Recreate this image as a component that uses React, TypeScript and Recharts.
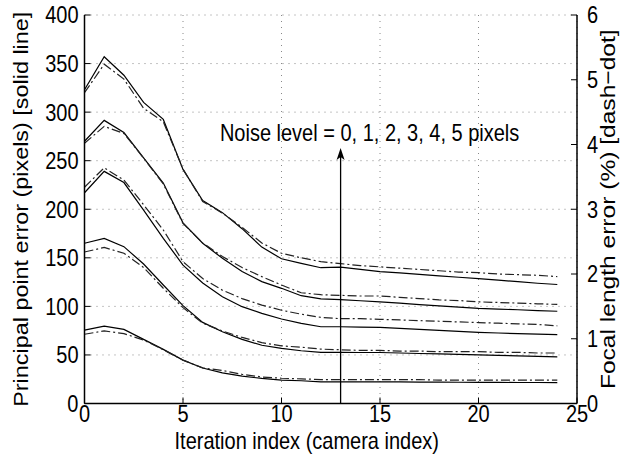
import { LineChart, Line, XAxis, YAxis, CartesianGrid, ReferenceLine } from "recharts";

const iterations = [0, 1, 2, 3, 4, 5, 6, 7, 8, 9, 10, 11, 12, 13, 14, 15, 16, 17, 18, 19, 20, 21, 22, 23, 24];

// principal point error (pixels), noise level 1..5
const pp1 = [75.6, 79.7, 76.3, 66, 55.7, 44.7, 36.5, 31.6, 28.2, 25.8, 24, 23.4, 22.3, 22.3, 22.3, 22.3, 22.2, 22.1, 22, 21.9, 21.8, 21.7, 21.6, 21.6, 21.5];
const pp2 = [165, 170, 161.5, 143.6, 122, 100.8, 83.5, 73.9, 66, 60, 56.7, 54.3, 52.6, 52.6, 52.5, 52.5, 52, 51.5, 51, 50.5, 50, 49.5, 49, 48.5, 48];
const pp3 = [217, 239, 227.5, 199, 170, 142.5, 124, 110, 99.7, 92.8, 87, 82.5, 79, 79, 78.7, 78.3, 77.3, 76.3, 75.2, 74.2, 73.2, 72.6, 72, 71.5, 71];
const pp4 = [270, 291.5, 279, 253, 227, 186, 165, 149.5, 136, 125.5, 118.6, 111, 107.8, 107, 105.8, 104.7, 103.3, 101.9, 100.5, 99.2, 97.9, 97.2, 96.5, 95.7, 95];
const pp5 = [323, 357, 338, 310, 292.5, 241, 209, 196.5, 180, 161, 149, 144.3, 139.8, 140.5, 138, 135.8, 134.5, 133, 131.5, 130, 128.5, 127, 125.5, 123.8, 122.5];

// focal length error (%), noise level 1..5
const fl1 = [1.07, 1.12, 1.08, 0.98, 0.83, 0.67, 0.55, 0.51, 0.45, 0.41, 0.39, 0.38, 0.37, 0.37, 0.37, 0.37, 0.37, 0.37, 0.36, 0.36, 0.36, 0.36, 0.36, 0.36, 0.36];
const fl2 = [2.34, 2.41, 2.32, 2.1, 1.78, 1.48, 1.24, 1.12, 1.02, 0.94, 0.89, 0.87, 0.84, 0.83, 0.82, 0.82, 0.81, 0.81, 0.8, 0.8, 0.8, 0.79, 0.79, 0.78, 0.78];
const fl3 = [3.34, 3.64, 3.45, 3.07, 2.68, 2.19, 1.93, 1.75, 1.62, 1.52, 1.44, 1.38, 1.33, 1.31, 1.31, 1.3, 1.29, 1.28, 1.27, 1.26, 1.25, 1.24, 1.23, 1.22, 1.2];
const fl4 = [4.02, 4.28, 4.17, 3.79, 3.39, 2.78, 2.48, 2.27, 2.1, 1.96, 1.83, 1.71, 1.68, 1.67, 1.66, 1.66, 1.64, 1.62, 1.6, 1.59, 1.57, 1.56, 1.55, 1.54, 1.53];
const fl5 = [4.8, 5.24, 5.01, 4.56, 4.35, 3.62, 3.12, 2.94, 2.72, 2.48, 2.32, 2.25, 2.19, 2.16, 2.13, 2.11, 2.09, 2.07, 2.05, 2.03, 2.02, 2.0, 1.99, 1.98, 1.96];

const xTicks = [0, 5, 10, 15, 20, 25];
const leftTicks = [0, 50, 100, 150, 200, 250, 300, 350, 400];
const rightTicks = [0, 1, 2, 3, 4, 5, 6];

const arrowX = 13;
const arrowTop = 263;
const noteText = "Noise level = 0, 1, 2, 3, 4, 5 pixels";

const ppSeries = [pp1, pp2, pp3, pp4, pp5];
const flSeries = [fl1, fl2, fl3, fl4, fl5];

const data = iterations.map((x, i) => {
  const row: any = { x };
  ppSeries.forEach((s, k) => (row[`pp${k + 1}`] = s[i]));
  flSeries.forEach((s, k) => (row[`fl${k + 1}`] = s[i]));
  return row;
});

const FONT = "'Liberation Sans', Arial, Helvetica, sans-serif";
const STRETCH = 1.17; // the source figure is a bit taller than wide
const axisLine = { stroke: "#000", strokeWidth: 1.5 };

const Tick = (props: any) => {
  const { x, y, payload, textAnchor, verticalAnchor } = props;
  const dy = verticalAnchor === "start" ? "0.72em" : "0.36em";
  return (
    <g transform={`translate(${x},${y}) scale(1,${STRETCH})`}>
      <text x={0} y={0} dy={dy} textAnchor={textAnchor} fontSize={20} fontFamily={FONT} fill="#000">
        {payload.value}
      </text>
    </g>
  );
};

const VLabel = ({ cx, cy, text, size }: any) => (
  <g transform={`translate(${cx},${cy}) rotate(-90) scale(${STRETCH},1)`}>
    <text x={0} y={0} dy="0.36em" textAnchor="middle" fontSize={size} fontFamily={FONT} fill="#000">
      {text}
    </text>
  </g>
);

const Arrow = (props: any) => {
  const { x1, y1, x2, y2 } = props;
  const top = Math.min(y1, y2);
  const bottom = Math.max(y1, y2);
  return (
    <g>
      <line x1={x1} y1={bottom} x2={x2} y2={top + 6} stroke="#000" strokeWidth={1.3} />
      <path d={`M${x1},${top} L${x1 - 4},${top + 12} L${x1},${top + 9} L${x1 + 4},${top + 12} Z`} fill="#000" />
      <g transform={`translate(${x1 + 29},${top - 7}) scale(1,${STRETCH})`}>
        <text x={0} y={0} textAnchor="middle" fontSize={20} fontFamily={FONT} fill="#000">
          {noteText}
        </text>
      </g>
    </g>
  );
};

export default function App() {
  return (
    <div style={{ position: "absolute", left: 0, top: 0, background: "#fff" }}>
      <LineChart width={621} height={455} data={data} margin={{ top: 15, right: 0, bottom: 0, left: 0 }}>
        <CartesianGrid
          xAxisId="bottom"
          yAxisId="left"
          stroke="#888"
          strokeDasharray="1 5"
          horizontalValues={leftTicks}
          verticalValues={xTicks}
        />
        <XAxis
          xAxisId="bottom"
          dataKey="x"
          type="number"
          domain={[0, 25]}
          ticks={xTicks}
          interval={0}
          height={51.5}
          tickSize={-6}
          tickMargin={8}
          tick={<Tick />}
          axisLine={axisLine}
          tickLine={{ stroke: "#000" }}
          label={({ viewBox }: any) => (
            <g transform={`translate(${viewBox.x + viewBox.width / 2 - 24},449) scale(1,${STRETCH})`}>
              <text x={0} y={0} textAnchor="middle" fontSize={20} fontFamily={FONT} fill="#000">
                Iteration index (camera index)
              </text>
            </g>
          )}
        />
        <XAxis
          xAxisId="top"
          orientation="top"
          dataKey="x"
          type="number"
          domain={[0, 25]}
          ticks={xTicks}
          interval={0}
          height={0}
          tickSize={-6}
          tickFormatter={() => ""}
          axisLine={axisLine}
          tickLine={{ stroke: "#000" }}
        />
        <YAxis
          yAxisId="left"
          type="number"
          domain={[0, 400]}
          ticks={leftTicks}
          interval={0}
          width={84.5}
          tickSize={-6}
          tickMargin={12}
          tick={<Tick />}
          axisLine={axisLine}
          tickLine={{ stroke: "#000" }}
          label={({ viewBox }: any) => (
            <VLabel cx={21} cy={viewBox.y + viewBox.height / 2} size={20} text="Principal point error (pixels) [solid line]" />
          )}
        />
        <YAxis
          yAxisId="right"
          orientation="right"
          type="number"
          domain={[0, 6]}
          ticks={rightTicks}
          interval={0}
          width={44}
          tickSize={-6}
          tickMargin={16}
          tick={<Tick />}
          axisLine={axisLine}
          tickLine={{ stroke: "#000" }}
          label={({ viewBox }: any) => (
            <VLabel cx={607} cy={viewBox.y + viewBox.height / 2} size={21} text="Focal length error (%) [dash−dot]" />
          )}
        />
        {ppSeries.map((_, k) => (
          <Line
            key={`pp${k}`}
            xAxisId="bottom"
            yAxisId="left"
            dataKey={`pp${k + 1}`}
            stroke="#000"
            strokeWidth={1.2}
            dot={false}
            isAnimationActive={false}
          />
        ))}
        {flSeries.map((_, k) => (
          <Line
            key={`fl${k}`}
            xAxisId="bottom"
            yAxisId="right"
            dataKey={`fl${k + 1}`}
            stroke="#222"
            strokeWidth={1.2}
            strokeDasharray="9 3 2 3"
            dot={false}
            isAnimationActive={false}
          />
        ))}
        <ReferenceLine
          xAxisId="bottom"
          yAxisId="left"
          segment={[{ x: arrowX, y: 0 }, { x: arrowX, y: arrowTop }]}
          shape={Arrow}
        />
      </LineChart>
    </div>
  );
}
